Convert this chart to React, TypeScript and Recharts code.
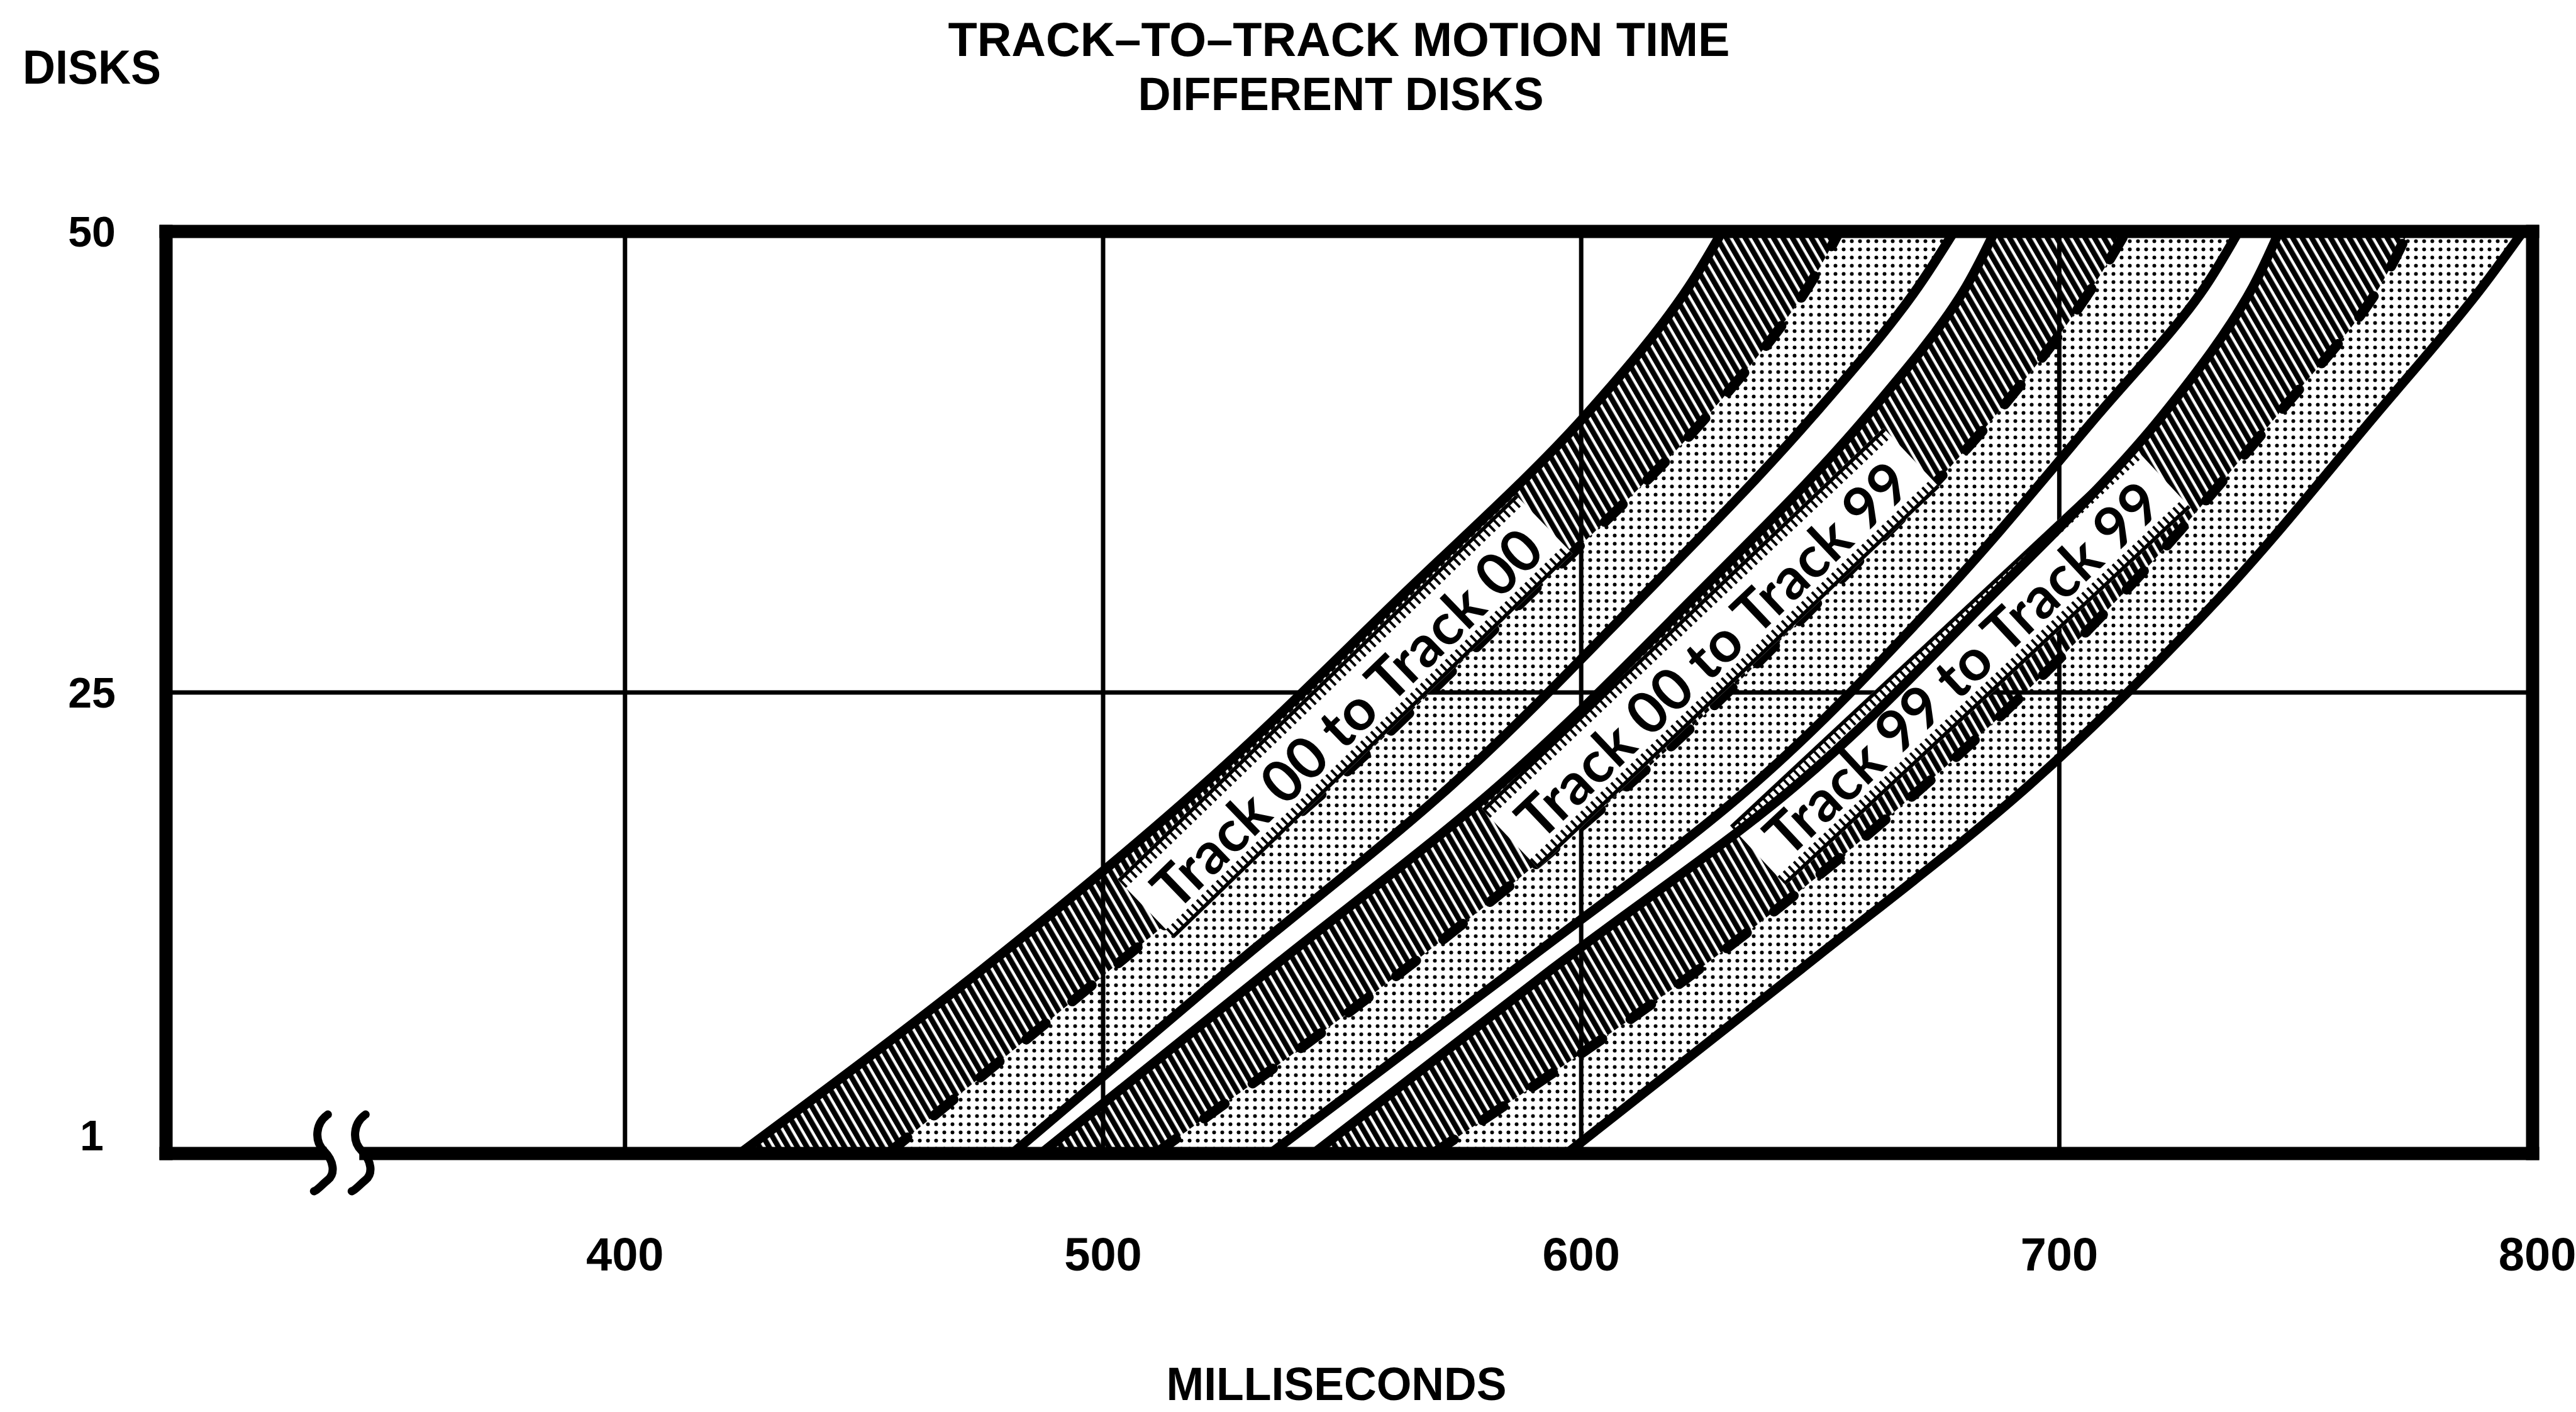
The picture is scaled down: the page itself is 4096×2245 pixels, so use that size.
import React from 'react';
import { ComposedChart, Area, Line, Scatter, XAxis, YAxis, ReferenceLine } from 'recharts';

const WIDTH = 4096;
const HEIGHT = 2245;

// Disk counts at which the band boundaries were read
const disks = [0, 10, 20, 30, 40, 47, 50];
// Track 00 to Track 00 (milliseconds)
const band1Left = [424, 474.8, 521, 561.5, 600.8, 622.5, 629.5];
const band1Mid = [455, 501.7, 548, 588, 626.4, 647.5, 654];
const band1Right = [481, 526.5, 573, 612, 648.5, 670.5, 678];
// Track 00 to Track 99
const band2Left = [487, 535, 583, 623, 659.8, 680.5, 686.5];
const band2Mid = [511, 563.2, 610, 650, 686.6, 707, 714];
const band2Right = [535, 586.2, 636, 674.6, 707.9, 730.5, 737.5];
// Track 99 to Track 99
const band3Left = [544, 593.9, 645.1, 684.9, 721.5, 740.5, 746];
const band3Mid = [569, 624.7, 672, 712, 745.5, 767, 773];
const band3Right = [597, 646, 693.8, 733, 766, 788.5, 797];

const bandNames = ['Track 00 to Track 00', 'Track 00 to Track 99', 'Track 99 to Track 99'];
const labelMs = [550.6, 627.1, 679.3];
const labelDisks = [23.7, 27.4, 26.4];
const labelAngles = [-44, -43.5, -43];

const xTicks = [400, 500, 600, 700, 800];
const yTicks = [1, 25, 50];
const gridMs = [400, 500, 600, 700];
const gridDisks = [25];
const xDomain = [304, 799];
const yDomain = [0, 50];
const breakMs = [341];

const titleLine1 = 'TRACK–TO–TRACK MOTION TIME';
const titleLine2 = 'DIFFERENT DISKS';
const yTitle = 'DISKS';
const xTitle = 'MILLISECONDS';

const FONT = "'Liberation Sans', Arial, sans-serif";
const LABEL_FONT = "Lato, 'Open Sans', sans-serif";

const bands = [
  { left: band1Left, mid: band1Mid, right: band1Right },
  { left: band2Left, mid: band2Mid, right: band2Right },
  { left: band3Left, mid: band3Mid, right: band3Right },
];

const rows = disks.map((d, i) => {
  const r: any = { disk: d };
  bands.forEach((b, k) => {
    r[`h${k}`] = [b.left[i], b.mid[i]];
    r[`d${k}`] = [b.mid[i], b.right[i]];
    r[`l${k}`] = b.left[i];
    r[`m${k}`] = b.mid[i];
    r[`r${k}`] = b.right[i];
  });
  return r;
});

const labelRows = bandNames.map((t, i) => ({ text: t, ms: labelMs[i], disk: labelDisks[i], angle: labelAngles[i] }));
const breakRows = breakMs.map((m) => ({ ms: m, disk: 0 }));

const XTick = (props: any) => {
  const { x, y, payload } = props;
  return (
    <text x={x} y={y + 186} textAnchor="middle" fontFamily={FONT} fontWeight={700} fontSize={74} fill="#000">
      {payload.value}
    </text>
  );
};

const YTick = (props: any) => {
  const { x, y, payload } = props;
  return (
    <text x={x - 118} y={y} textAnchor="middle" dominantBaseline="central" fontFamily={FONT} fontWeight={700} fontSize={68} fill="#000">
      {payload.value}
    </text>
  );
};

const LabelShape = (props: any) => {
  const { cx, cy, payload } = props;
  if (cx == null || cy == null) return null;
  const len = 880;
  const hh = 130;
  return (
    <g transform={`translate(${cx},${cy}) rotate(${payload.angle})`}>
      <rect x={-len / 2} y={-hh / 2} width={len} height={hh} fill="#fff" />
      <line x1={-len / 2} x2={len / 2} y1={-hh / 2 + 3} y2={-hh / 2 + 3} stroke="#000" strokeWidth={6} />
      <line x1={-len / 2} x2={len / 2} y1={-hh / 2 + 12} y2={-hh / 2 + 12} stroke="#000" strokeWidth={14} strokeDasharray="4 7" />
      <line x1={-len / 2} x2={len / 2} y1={hh / 2 - 3} y2={hh / 2 - 3} stroke="#000" strokeWidth={6} />
      <line x1={-len / 2} x2={len / 2} y1={hh / 2 - 12} y2={hh / 2 - 12} stroke="#000" strokeWidth={14} strokeDasharray="4 7" />
      <text
        x={0}
        y={2}
        textAnchor="middle"
        dominantBaseline="central"
        fontFamily={LABEL_FONT}
        fontWeight={700}
        fontSize={92}
        fill="#000"
        textLength={820}
        lengthAdjust="spacingAndGlyphs"
      >
        {payload.text}
      </text>
    </g>
  );
};

const BreakShape = (props: any) => {
  const { cx, cy } = props;
  if (cx == null || cy == null) return null;
  const curve = (dx: number) =>
    `M ${cx + dx + 6} ${cy - 62} C ${cx + dx - 14} ${cy - 48}, ${cx + dx - 16} ${cy - 20}, ${cx + dx} ${cy - 4} S ${cx + dx + 18} ${cy + 32}, ${cx + dx + 6} ${cy + 42} S ${cx + dx - 10} ${cy + 58}, ${cx + dx - 16} ${cy + 60}`;
  return (
    <g>
      <rect x={cx - 26} y={cy - 16} width={52} height={32} fill="#fff" />
      <path d={curve(-30)} fill="none" stroke="#000" strokeWidth={13} strokeLinecap="round" />
      <path d={curve(30)} fill="none" stroke="#000" strokeWidth={13} strokeLinecap="round" />
    </g>
  );
};

const FRAME_W = 21;

export default function App() {
  return (
    <div style={{ position: 'absolute', left: 0, top: 0, width: WIDTH, height: HEIGHT, background: '#fff' }}>
      <svg width={0} height={0} style={{ position: 'absolute' }}>
        <defs>
          <pattern id="hatch" width="13" height="13" patternUnits="userSpaceOnUse" patternTransform="rotate(-30)">
            <rect x="0" y="0" width="8.5" height="13" fill="#000" />
          </pattern>
          <pattern id="dots" width="13" height="13" patternUnits="userSpaceOnUse">
            <circle cx="6.5" cy="6.5" r="3" fill="#000" />
          </pattern>
        </defs>
      </svg>
      <div style={{ position: 'absolute', left: 0, top: 0 }}>
        <ComposedChart
          layout="vertical"
          width={WIDTH}
          height={HEIGHT}
          data={rows}
          margin={{ top: 368, right: 69, bottom: 211, left: 64 }}
        >
          <XAxis
            type="number"
            domain={xDomain}
            ticks={xTicks}
            tick={<XTick />}
            tickLine={false}
            tickSize={0}
            tickMargin={0}
            height={200}
            axisLine={false}
          />
          <YAxis
            type="number"
            dataKey="disk"
            domain={yDomain}
            reversed
            ticks={yTicks}
            tick={<YTick />}
            tickLine={false}
            tickSize={0}
            tickMargin={0}
            width={200}
            axisLine={false}
          />
          {gridMs.map((m) => (
            <ReferenceLine key={`gx${m}`} x={m} stroke="#000" strokeWidth={7} zIndex={50} />
          ))}
          {gridDisks.map((d) => (
            <ReferenceLine key={`gy${d}`} y={d} stroke="#000" strokeWidth={7} zIndex={50} />
          ))}
          {bands.map((_, k) => (
            <Area
              key={`ha${k}`}
              dataKey={`h${k}`}
              type="monotone"
              fill="url(#hatch)"
              fillOpacity={1}
              stroke="none"
              isAnimationActive={false}
              zIndex={100}
            />
          ))}
          {bands.map((_, k) => (
            <Area
              key={`da${k}`}
              dataKey={`d${k}`}
              type="monotone"
              fill="url(#dots)"
              fillOpacity={1}
              stroke="none"
              isAnimationActive={false}
              zIndex={100}
            />
          ))}
          {bands.map((_, k) => (
            <Line
              key={`ml${k}`}
              dataKey={`m${k}`}
              type="monotone"
              stroke="#000"
              strokeWidth={16}
              strokeDasharray="40 55"
              strokeLinecap="round"
              dot={false}
              activeDot={false}
              isAnimationActive={false}
              zIndex={150}
            />
          ))}
          <Scatter
            data={labelRows}
            dataKey="ms"
            shape={<LabelShape />}
            isAnimationActive={false}
            zIndex={200}
          />
          {bands.map((_, k) => (
            <Line
              key={`ll${k}`}
              dataKey={`l${k}`}
              type="monotone"
              stroke="#000"
              strokeWidth={15}
              dot={false}
              activeDot={false}
              isAnimationActive={false}
              zIndex={300}
            />
          ))}
          {bands.map((_, k) => (
            <Line
              key={`rl${k}`}
              dataKey={`r${k}`}
              type="monotone"
              stroke="#000"
              strokeWidth={15}
              dot={false}
              activeDot={false}
              isAnimationActive={false}
              zIndex={300}
            />
          ))}
          <ReferenceLine x={xDomain[0]} stroke="#000" strokeWidth={FRAME_W} strokeLinecap="square" zIndex={500} />
          <ReferenceLine x={xDomain[1]} stroke="#000" strokeWidth={FRAME_W} strokeLinecap="square" zIndex={500} />
          <ReferenceLine y={yDomain[0]} stroke="#000" strokeWidth={FRAME_W} strokeLinecap="square" zIndex={500} />
          <ReferenceLine y={yDomain[1]} stroke="#000" strokeWidth={FRAME_W} strokeLinecap="square" zIndex={500} />
          <Scatter data={breakRows} dataKey="ms" shape={<BreakShape />} isAnimationActive={false} zIndex={600} />
        </ComposedChart>
      </div>
      <svg width={WIDTH} height={HEIGHT} style={{ position: 'absolute', left: 0, top: 0, pointerEvents: 'none' }}>
        <text x={2129} y={89} textAnchor="middle" fontFamily={FONT} fontWeight={700} fontSize={76} textLength={1243} lengthAdjust="spacingAndGlyphs" fill="#000">
          {titleLine1}
        </text>
        <text x={2132} y={175} textAnchor="middle" fontFamily={FONT} fontWeight={700} fontSize={74} textLength={645} lengthAdjust="spacingAndGlyphs" fill="#000">
          {titleLine2}
        </text>
        <text x={36} y={133} fontFamily={FONT} fontWeight={700} fontSize={76} textLength={220} lengthAdjust="spacingAndGlyphs" fill="#000">
          {yTitle}
        </text>
        <text x={2125} y={2226} textAnchor="middle" fontFamily={FONT} fontWeight={700} fontSize={74} textLength={541} lengthAdjust="spacingAndGlyphs" fill="#000">
          {xTitle}
        </text>
      </svg>
    </div>
  );
}
